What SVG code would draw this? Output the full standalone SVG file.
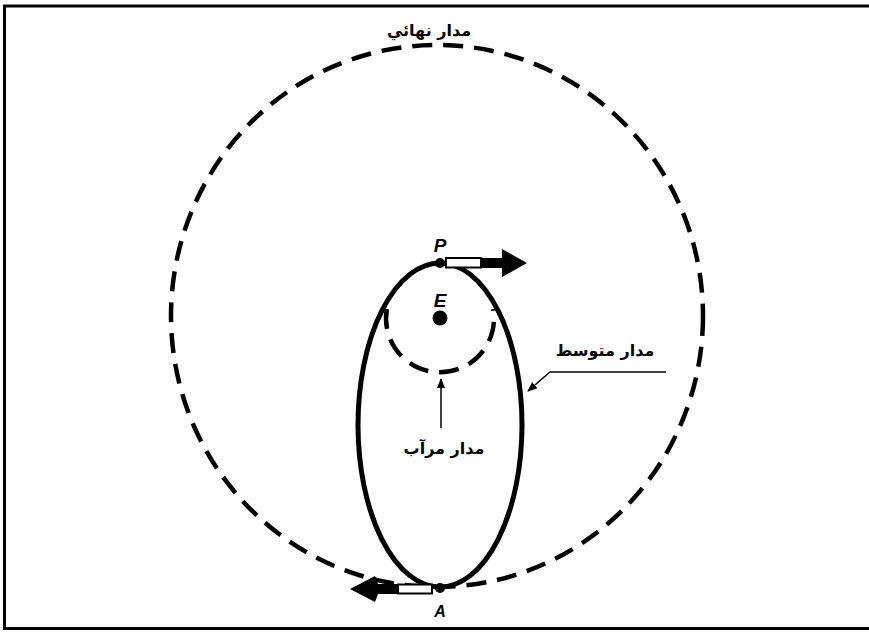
<svg xmlns="http://www.w3.org/2000/svg" width="869" height="633" viewBox="0 0 869 633">
<defs>
<style>
.ar{font-family:"DejaVu Sans",sans-serif;font-weight:bold;font-size:16px;fill:#000;text-anchor:middle}
.lt{font-family:"Liberation Sans",sans-serif;font-weight:bold;font-style:italic;fill:#000;text-anchor:middle}
.dash{fill:none;stroke:#000;stroke-width:4.5;stroke-dasharray:20 11}
.lead{fill:none;stroke:#000;stroke-width:1.5}
</style>
<marker id="ah" markerWidth="10" markerHeight="10" refX="9" refY="5" orient="auto" markerUnits="userSpaceOnUse">
<path d="M0,1 L10,5 L0,9 Z" fill="#000"/>
</marker>
</defs>
<rect x="0" y="0" width="869" height="633" fill="#fff"/>
<rect x="4.5" y="6" width="880" height="622.5" fill="none" stroke="#000" stroke-width="3"/>
<g id="final-orbit">
<ellipse class="dash" cx="437" cy="316" rx="266" ry="271"/>
<text class="ar" x="429" y="36" direction="rtl">مدار نهائي</text>
</g>
<g id="transfer-orbit">
<ellipse cx="440" cy="425" rx="82" ry="162" fill="none" stroke="#000" stroke-width="5"/>
<text class="ar" x="605" y="356" direction="rtl">مدار متوسط</text>
</g>
<g id="parking-orbit">
<path class="dash" d="M386.8,309 A54,54 0 1 0 493.2,309" stroke-dasharray="18 11"/>
<text class="ar" x="444" y="454" direction="rtl">مدار مرآب</text>
</g>
<g id="earth">
<circle cx="440" cy="318" r="7.5" fill="#000"/>
<text class="lt" x="440" y="307" font-size="19">E</text>
</g>
<g id="P">
<circle cx="440" cy="263" r="5" fill="#000"/>
<text class="lt" x="440" y="252" font-size="19">P</text>
<path d="M480,258 L502,258 L502,249 L527,263 L502,277 L502,268 L480,268 Z" fill="#000"/>
<rect x="446" y="258" width="35" height="9.5" fill="#fff" stroke="#000" stroke-width="2"/>
</g>
<g id="A">
<circle cx="440" cy="588" r="5" fill="#000"/>
<text class="lt" x="440" y="617" font-size="16">A</text>
<path d="M398,584 L378,584 L375,576 L350,589 L375,602 L378,594 L398,594 Z" fill="#000"/>
<rect x="398" y="584.5" width="34" height="9" fill="#fff" stroke="#000" stroke-width="2"/>
</g>
<g id="connectors">
<path class="lead" d="M666,372 L550,372 L528,391" marker-end="url(#ah)"/>
<path class="lead" d="M441,428 L441,379" marker-end="url(#ah)"/>
</g>
</svg>
